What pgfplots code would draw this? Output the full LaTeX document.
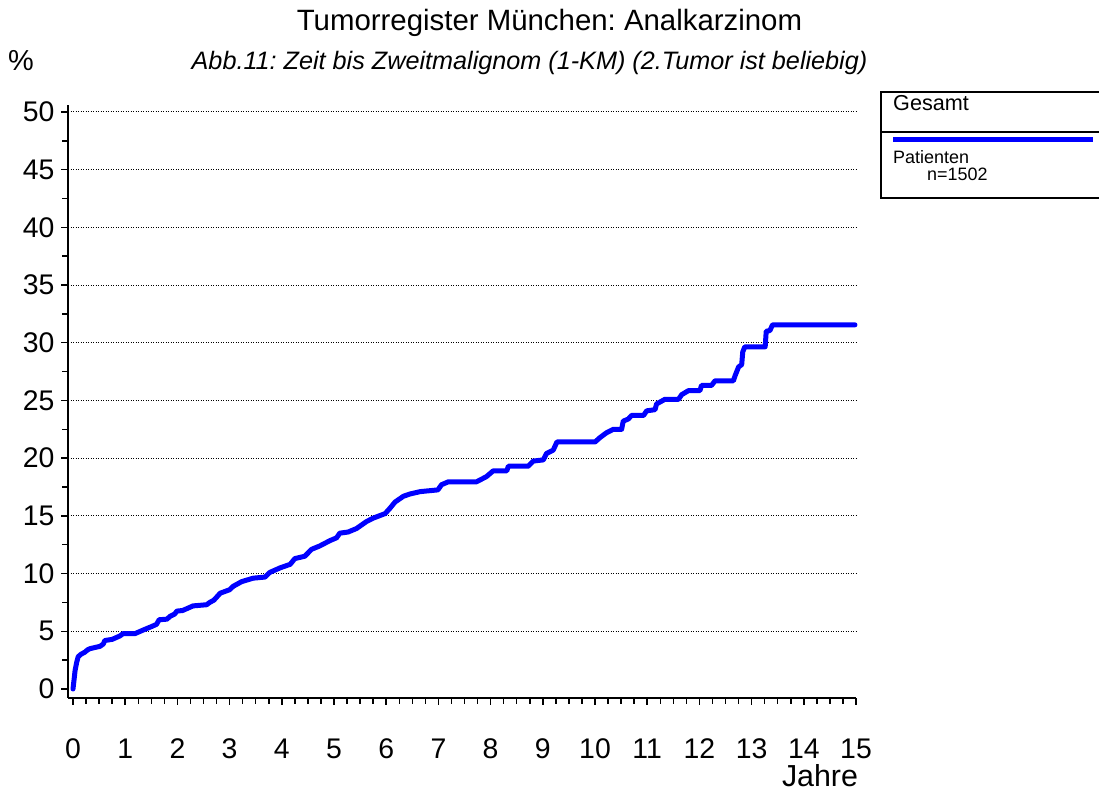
\documentclass[border=0pt]{standalone}
\usepackage{fontspec}
\setmainfont{Liberation Sans}
\usepackage{pgfplots}
\pgfplotsset{compat=1.18}
\definecolor{kmblue}{RGB}{0,0,255}
\frenchspacing

\begin{document}
\begin{tikzpicture}[x=1bp,y=1bp]
\useasboundingbox (0,0) rectangle (1099,793);
\begin{axis}[
  at={(68bp,95bp)}, anchor=south west,
  scale only axis, width=788bp, height=593bp,
  xmin=-0.0958, xmax=15, ymin=-0.78, ymax=50.6,
  axis x line*=bottom, axis y line*=left,
  axis line style={line width=1.5bp, -},
  xtick={0,...,15}, minor x tick num=3,
  ytick={5,10,...,50}, extra y ticks={0}, extra y tick style={grid=none},
  minor ytick={2.5,7.5,...,47.5},
  tick align=outside, major tick length=7bp, minor tick length=6bp,
  every tick/.style={black, line width=1.5bp},
  ymajorgrids, major grid style={black, line width=1bp, dash pattern=on 1bp off 1.5bp},
  tick label style={font=\fontsize{28.5}{32}\selectfont},
  /pgf/number format/assume math mode=true,
  xticklabel style={yshift=-30bp},
  yticklabel style={xshift=-3bp},
  clip=false,
]
\addplot[kmblue, line width=5bp, line join=round, line cap=round] coordinates {
(0,0) (0.02,0.8) (0.04,1.6) (0.07,2.3) (0.1,2.8) (0.15,3.0) (0.23,3.2)
(0.28,3.4) (0.33,3.5) (0.52,3.7) (0.58,3.9) (0.61,4.2) (0.75,4.3) (0.8,4.4)
(0.9,4.6) (0.96,4.8) (1.19,4.8) (1.34,5.1) (1.5,5.4) (1.6,5.6) (1.65,6.0)
(1.8,6.05) (1.86,6.3) (1.95,6.5) (1.99,6.75) (2.1,6.8) (2.15,6.9) (2.3,7.2)
(2.56,7.3) (2.62,7.5) (2.7,7.7) (2.78,8.1) (2.82,8.3) (3.0,8.6) (3.07,8.9)
(3.23,9.3) (3.45,9.6) (3.68,9.7) (3.77,10.1) (3.97,10.5) (4.16,10.8) (4.25,11.3)
(4.44,11.5) (4.57,12.1) (4.73,12.4) (4.92,12.85) (5.05,13.1) (5.11,13.5) (5.27,13.6)
(5.43,13.9) (5.62,14.5) (5.75,14.8) (5.98,15.2) (6.07,15.65) (6.17,16.2) (6.33,16.7)
(6.46,16.9) (6.65,17.1) (6.99,17.25) (7.06,17.7) (7.19,17.95) (7.73,17.95) (7.92,18.4)
(8.05,18.9) (8.31,18.9) (8.34,19.3) (8.72,19.3) (8.82,19.75) (9.01,19.85) (9.07,20.4)
(9.2,20.7) (9.27,21.4) (10.0,21.4) (10.1,21.8) (10.22,22.2) (10.35,22.5) (10.51,22.5)
(10.54,23.2) (10.64,23.4) (10.7,23.7) (10.93,23.7) (10.99,24.1) (11.15,24.2) (11.18,24.7)
(11.34,25.1) (11.6,25.1) (11.66,25.5) (11.79,25.85) (12.01,25.85) (12.04,26.3) (12.23,26.3)
(12.3,26.7) (12.65,26.7) (12.68,27.1) (12.75,27.9) (12.81,28.1) (12.83,29.2) (12.87,29.65)
(13.26,29.65) (13.28,31.0) (13.35,31.05) (13.40,31.55) (14.98,31.55)
};
\end{axis}
% titles and axis names
\node[anchor=base, inner sep=0, font=\fontsize{29.5}{34}\selectfont] at (549.5,762) {Tumorregister München: Analkarzinom};
\node[anchor=base, inner sep=0, font=\fontsize{25.3}{30}\selectfont\itshape] at (529.5,723) {Abb.11: Zeit bis Zweitmalignom (1-KM) (2.Tumor ist beliebig)};
\node[anchor=base, inner sep=0, font=\fontsize{29}{34}\selectfont] at (21,722) {\%};
\node[anchor=base, inner sep=0, font=\fontsize{30.5}{36}\selectfont] at (820,6) {Jahre};
% legend box (right side open, cut by the page edge)
\draw[line width=1.5bp] (1099,701) -- (881,701) -- (881,595) -- (1099,595);
\draw[line width=1.5bp] (881,661) -- (1099,661);
\draw[kmblue, line width=5bp] (893,653) -- (1093,653);
\node[anchor=base west, inner sep=0, font=\fontsize{21.7}{26}\selectfont] at (893,682) {Gesamt};
\node[anchor=base west, inner sep=0, font=\fontsize{18}{21}\selectfont] at (893,629) {Patienten};
\node[anchor=base west, inner sep=0, font=\fontsize{18}{21}\selectfont] at (927,612) {n=1502};
\end{tikzpicture}
\end{document}
